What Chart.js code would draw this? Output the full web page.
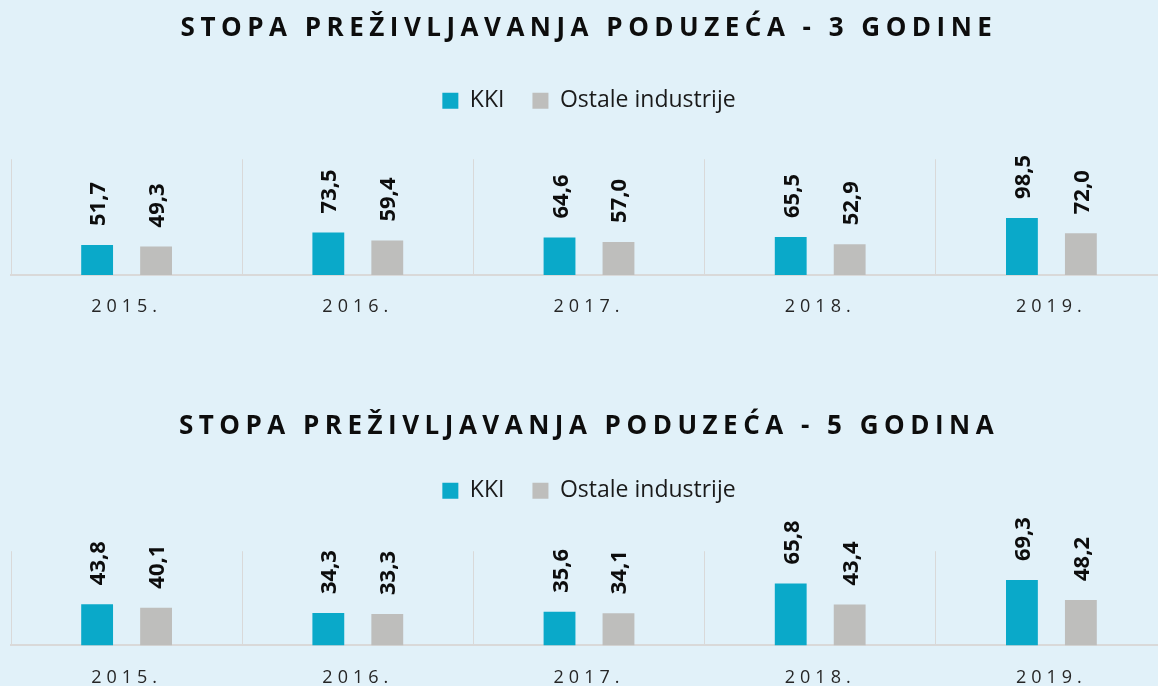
<!DOCTYPE html>
<html>
<head>
<meta charset="utf-8">
<script src="https://cdn.jsdelivr.net/npm/chart.js@4"></script>
<style>
  html, body { margin: 0; padding: 0; }
  body { width: 1158px; height: 686px; overflow: hidden; background: #e1f1f9; position: relative; }
  .box { position: absolute; left: 0; width: 1180px; }
  #box1 { top: 0; height: 345px; }
  #box2 { top: 345px; height: 373px; }
</style>
</head>
<body>
<div class="box" id="box1"><canvas id="chart3g"></canvas></div>
<div class="box" id="box2"><canvas id="chart5g"></canvas></div>
<script>
/* Stopa preživljavanja poduzeća */
const years = ["2015.", "2016.", "2017.", "2018.", "2019."];
const kki3 = [51.7, 73.5, 64.6, 65.5, 98.5];
const ostale3 = [49.3, 59.4, 57.0, 52.9, 72.0];
const kki5 = [43.8, 34.3, 35.6, 65.8, 69.3];
const ostale5 = [40.1, 33.3, 34.1, 43.4, 48.2];

const KKI_COLOR = "#0aa9c9";
const GREY_COLOR = "#bebebc";

// letter spacing for title and year labels, extra room under the legend
const tweaks = {
  id: "tweaks",
  beforeLayout(chart, args, opts) {
    const lg = chart.legend;
    if (lg && !lg._wrapped) {
      const fit = lg.fit;
      lg.fit = function () {
        fit.call(this);
        this.height += opts.legendExtra || 0;
      };
      lg._wrapped = true;
    }
    const t = chart.titleBlock;
    if (t && !t._wrapped) {
      const draw = t.draw;
      t.draw = function () {
        this.ctx.save();
        this.ctx.letterSpacing = "5.5px";
        draw.apply(this, arguments);
        this.ctx.restore();
      };
      t._wrapped = true;
    }
    const x = chart.scales.x;
    if (x && !x._wrapped) {
      const dl = x.drawLabels;
      x.drawLabels = function (area) {
        this.ctx.save();
        this.ctx.letterSpacing = "5px";
        dl.call(this, area);
        this.ctx.restore();
      };
      x._wrapped = true;
    }
  }
};

// rotated value labels above the bars
const barLabels = {
  id: "barLabels",
  afterDatasetsDraw(chart) {
    const ctx = chart.ctx;
    ctx.save();
    ctx.font = "bold 22px 'Open Sans'";
    ctx.fillStyle = "#0d0d0d";
    ctx.textAlign = "left";
    ctx.textBaseline = "alphabetic";
    chart.data.datasets.forEach((ds, i) => {
      chart.getDatasetMeta(i).data.forEach((bar, j) => {
        ctx.save();
        ctx.translate(bar.x, bar.y - 19);
        ctx.rotate(-Math.PI / 2);
        ctx.fillText(ds.data[j].toFixed(1).replace(".", ","), 0, 8);
        ctx.restore();
      });
    });
    ctx.restore();
  }
};

function makeChart(id, title, kki, ostale, yMax, lay) {
  return new Chart(document.getElementById(id), {
    type: "bar",
    data: {
      labels: years,
      datasets: [
        { label: "KKI", data: kki, backgroundColor: KKI_COLOR, borderWidth: 0,
          categoryPercentage: 0.51, barPercentage: 0.54 },
        { label: "Ostale industrije", data: ostale, backgroundColor: GREY_COLOR, borderWidth: 0,
          categoryPercentage: 0.51, barPercentage: 0.54 }
      ]
    },
    options: {
      responsive: true,
      maintainAspectRatio: false,
      animation: false,
      layout: { padding: { left: 11, right: 13, top: 0, bottom: lay.bottom } },
      plugins: {
        title: {
          display: true,
          text: title,
          color: "#0d0d0d",
          font: { family: "'Open Sans'", size: 26, weight: "bold" },
          padding: { top: lay.titleTop, bottom: lay.titleBottom }
        },
        legend: {
          display: true,
          labels: {
            boxWidth: 16,
            boxHeight: 16,
            padding: 28,
            color: "#1a1a1a",
            font: { family: "'Open Sans'", size: 23 }
          }
        },
        tooltip: { enabled: false },
        tweaks: { legendExtra: lay.legendExtra }
      },
      scales: {
        x: {
          grid: { display: true, color: "#d9d9d9", lineWidth: 1, drawTicks: false, offset: true },
          border: { display: true, color: "#d9d9d9", width: 2 },
          ticks: { color: "#262626", padding: 21.5, font: { family: "'Open Sans'", size: 18 } }
        },
        y: {
          display: false,
          min: 0,
          max: yMax
        }
      }
    },
    plugins: [tweaks, barLabels]
  });
}

makeChart("chart3g", "STOPA PREŽIVLJAVANJA PODUZEĆA - 3 GODINE", kki3, ostale3, 200,
  { titleTop: 13, titleBottom: 17, legendExtra: 37, bottom: 5.5 });
makeChart("chart5g", "STOPA PREŽIVLJAVANJA PODUZEĆA - 5 GODINA", kki5, ostale5, 100,
  { titleTop: 66, titleBottom: 9, legendExtra: 39, bottom: 8 });
</script>
</body>
</html>
